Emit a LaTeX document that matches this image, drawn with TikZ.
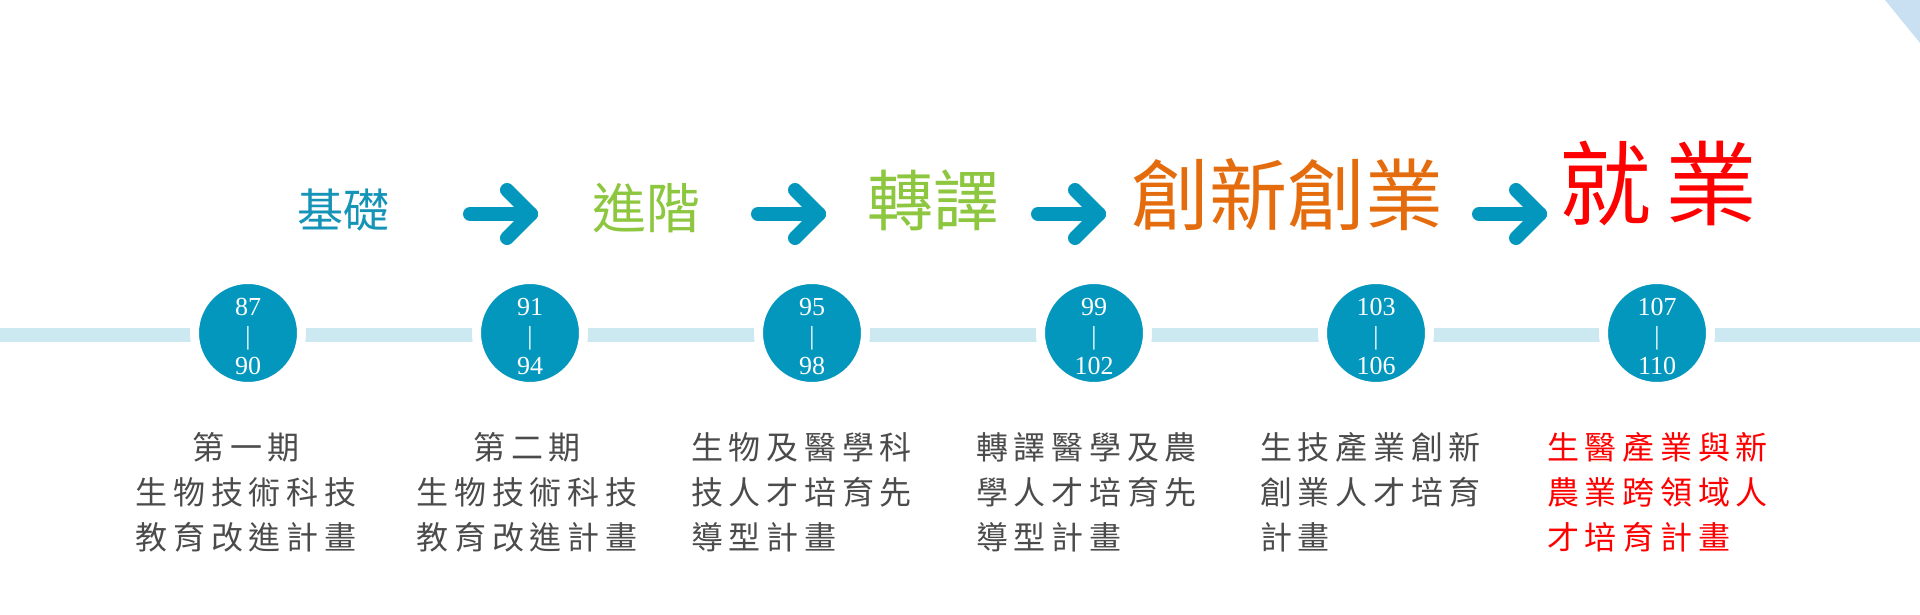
\documentclass[tikz,border=0pt]{standalone}
\usepackage{fontspec}
\setmainfont{Liberation Serif}
\newfontfamily\cjk{Noto Sans CJK TC}
\newfontfamily\cjkls[LetterSpace=18]{Noto Sans CJK TC}
\definecolor{teal}{RGB}{4,151,190}
\definecolor{barblue}{RGB}{204,232,240}
\definecolor{labteal}{RGB}{22,148,184}
\definecolor{labgreen}{RGB}{141,198,63}
\definecolor{laborange}{RGB}{228,108,12}
\definecolor{labred}{RGB}{255,0,0}
\definecolor{txtgray}{RGB}{75,75,75}
\definecolor{corner}{RGB}{200,224,242}
\tikzset{
  yr/.style={circle, fill=teal, draw=white, line width=9pt, minimum size=107pt, inner sep=0pt},
  yrtxt/.style={text=white, font=\fontsize{26}{26}\selectfont, inner sep=0pt},
  chev/.style={draw=teal, line width=14pt, line cap=round, line join=round},
  stage/.style={inner sep=0pt},
  desc/.style={inner sep=0pt, text=txtgray, font=\cjkls\fontsize{32}{45}\selectfont},
}
\begin{document}
\begin{tikzpicture}[x=1pt, y=-1pt]
\useasboundingbox (0,0) rectangle (1920,615);
% corner
\fill[corner] (1885,0) -- (1920,0) -- (1920,43) -- cycle;
% timeline bar
\coordinate (bl) at (0,335);
\coordinate (br) at (1920,335);
\draw[barblue, line width=14pt] (bl) -- (br);
% year circles
\foreach \n/\x/\a/\b in {c1/248/87/90, c2/530/91/94, c3/812/95/98, c4/1094/99/102, c5/1376/103/106, c6/1657/107/110}{
  \node[yr] (\n) at (\x,333) {};
  \node[yrtxt] (\n t) at (\x,307) {\a};
  \node[yrtxt] (\n m) at (\x,338) {|};
  \node[yrtxt] (\n b) at (\x,366) {\b};
}
% stage labels
\node[stage, text=labteal, font=\cjk\fontsize{46}{46}\selectfont] (s1) at (343,210) {基礎};
\node[stage, text=labgreen, font=\cjk\fontsize{54}{54}\selectfont] (s2) at (646,208) {進階};
\node[stage, text=labgreen, font=\cjk\fontsize{66}{66}\selectfont] (s3) at (933,200) {轉譯};
\node[stage, text=laborange, font=\cjk\fontsize{78}{78}\selectfont] (s4) at (1287,195) {創新創業};
\node[stage, text=labred, font=\cjk\fontsize{92}{92}\selectfont] (s5) at (1658,183) {就\hspace{14pt}業};
% chevron arrows
\foreach \x in {470,758,1038,1479}{
  \draw[chev] (\x,214) -- (\x+61,214);
  \draw[chev] (\x+37,190) -- (\x+61,214) -- (\x+37,238);
}
% descriptions
\node[desc, align=center, anchor=north] (d1) at (246,432) {第一期\\生物技術科技\\教育改進計畫};
\node[desc, align=center, anchor=north] (d2) at (527,432) {第二期\\生物技術科技\\教育改進計畫};
\node[desc, align=left, anchor=north west] (d3) at (691,432) {生物及醫學科\\技人才培育先\\導型計畫};
\node[desc, align=left, anchor=north west] (d4) at (976,432) {轉譯醫學及農\\學人才培育先\\導型計畫};
\node[desc, align=left, anchor=north west] (d5) at (1260,432) {生技產業創新\\創業人才培育\\計畫};
\node[desc, align=left, anchor=north west, text=labred] (d6) at (1547,432) {生醫產業與新\\農業跨領域人\\才培育計畫};
\end{tikzpicture}
\end{document}
